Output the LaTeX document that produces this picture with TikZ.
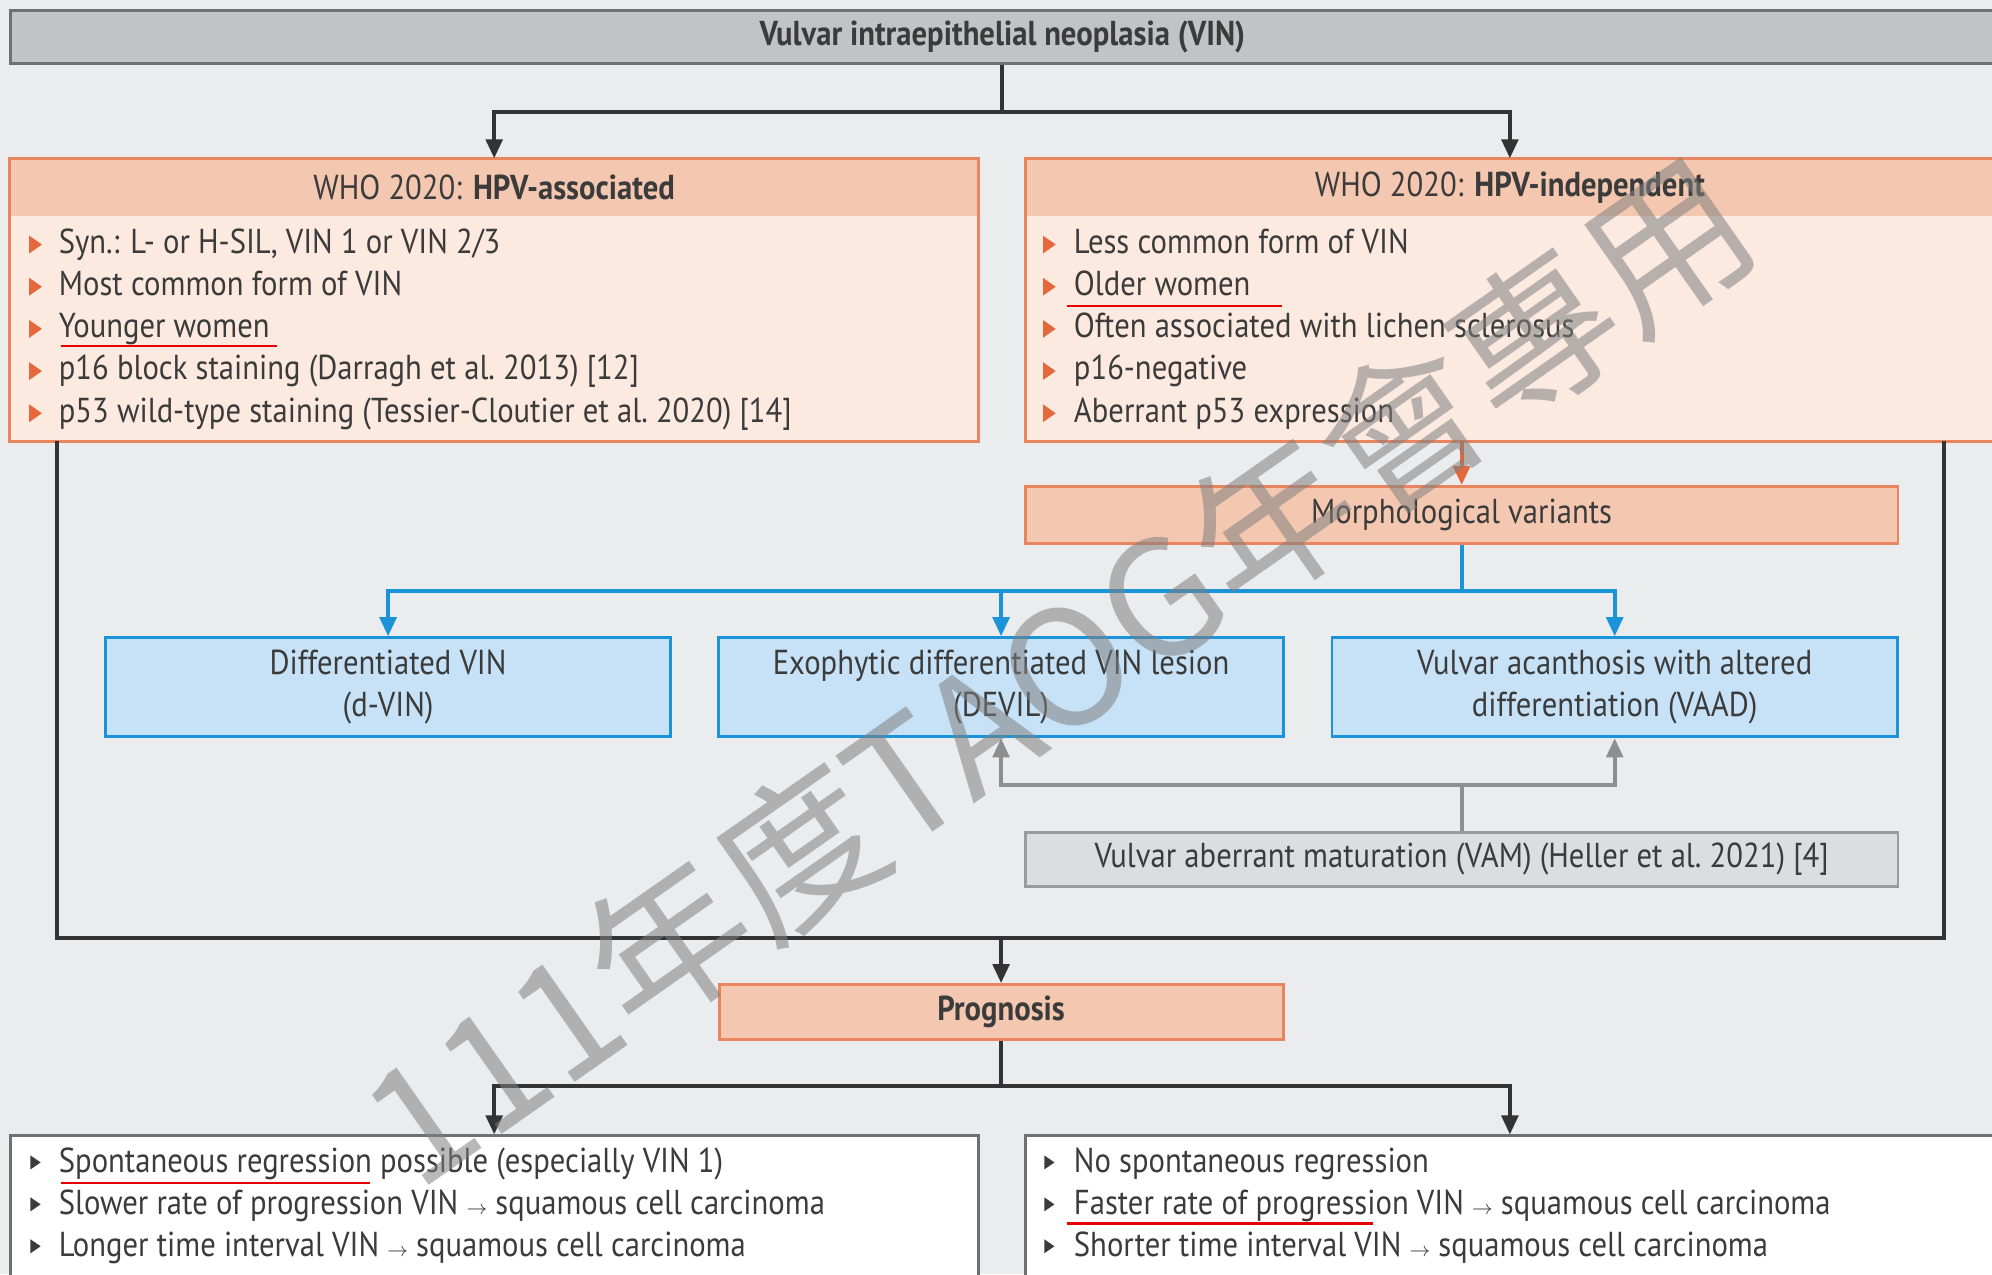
\documentclass[tikz,border=0pt]{standalone}
\usepackage{fontspec}
\setmainfont{PT Sans}[FakeStretch=0.886]
\newfontfamily\cjkfont{Noto Sans CJK TC}
\usetikzlibrary{arrows.meta}

\definecolor{pagegray}{HTML}{EBECEE}
\definecolor{titlefill}{HTML}{C2C3C5}
\definecolor{titleline}{HTML}{6F7072}
\definecolor{headfill}{HTML}{F4C8B0}
\definecolor{bodyfill}{HTML}{FCEAE1}
\definecolor{orangeline}{HTML}{E8845E}
\definecolor{bulletorange}{HTML}{E5683A}
\definecolor{bluefill}{HTML}{C7E2F6}
\definecolor{blueline}{HTML}{1B93D8}
\definecolor{vamfill}{HTML}{DCDDDF}
\definecolor{vamline}{HTML}{9B9B9B}
\definecolor{vamarrow}{HTML}{8E8E8E}
\definecolor{darkline}{HTML}{333333}
\definecolor{textgray}{HTML}{3B3B3B}
\definecolor{markred}{HTML}{E60000}

\begin{document}
\begin{tikzpicture}[x=0.2mm, y=-0.2mm,
    every node/.style={font=\fontsize{15.5}{18.8}\selectfont, text=textgray, inner sep=0pt},
    tip/.style={-{Triangle[width=2.6mm, length=3mm]}},
    flow/.style={draw=darkline, line width=1.8pt},
    titlebox/.style={fill=titlefill, draw=titleline, line width=1.3pt},
    hpvbody/.style={fill=bodyfill, minimum width=152.4mm, minimum height=44.4mm},
    hpvhead/.style={fill=headfill, minimum width=152.4mm, minimum height=9mm},
    salmonbox/.style={fill=headfill, draw=orangeline, line width=1.3pt},
    bluebox/.style={fill=bluefill, draw=blueline, line width=1.3pt, align=center,
        minimum width=89mm, minimum height=15.6mm},
    graybox/.style={fill=vamfill, draw=vamline, line width=1.3pt},
    whitebox/.style={fill=white, draw=titleline, line width=1.3pt,
        minimum width=152.4mm, minimum height=26mm},
    item/.style={anchor=base west},
    redmark/.style={draw=markred, line width=1.1pt},
    watermark/.style={font=\cjkfont\fontsize{72}{72}\selectfont, text=gray, text opacity=0.55}]

    % Page
    \useasboundingbox (0,0) rectangle (1568,1003);
    \clip (0,0) rectangle (1568,1003);
    \fill[pagegray] (0,0) rectangle (1568,1003);

    % Title
    \node[titlebox, minimum width=312.4mm, minimum height=8.4mm] (vin) at (789,29)
        {\textbf{Vulvar intraepithelial neoplasia (VIN)}};

    % The two WHO 2020 groups
    \node[hpvbody] (assoc) at (389,236) {};
    \node[hpvhead, anchor=north] (assochead) at (assoc.north) {WHO 2020: \textbf{HPV-associated}};
    \draw[orangeline, line width=1.3pt] (assoc.south west) rectangle (assoc.north east);

    \node[hpvbody] (indep) at (1188.5,236) {};
    \node[hpvhead, anchor=north] (indephead) at (indep.north) {WHO 2020: \textbf{HPV-independent}};
    \draw[orangeline, line width=1.3pt] (indep.south west) rectangle (indep.north east);

    \foreach \txt [count=\i from 0] in {{Syn.: L- or H-SIL, VIN 1 or VIN 2/3}, Most common form of VIN,
        Younger women, {p16 block staining (Darragh et al.\ 2013) [12]},
        {p53 wild-type staining (Tessier-Cloutier et al.\ 2020) [14]}} {
        \fill[bulletorange] (23,185.5+33.2*\i) -- ++(10,7) -- ++(-10,7) -- cycle;
        \node[item] (aitem\i) at (46,199.5+33.2*\i) {\txt};
    }
    \foreach \txt [count=\i from 0] in {Less common form of VIN, Older women,
        Often associated with lichen sclerosus, p16-negative, Aberrant p53 expression} {
        \fill[bulletorange] (821,185.5+33.2*\i) -- ++(10,7) -- ++(-10,7) -- cycle;
        \node[item] (iitem\i) at (845,199.5+33.2*\i) {\txt};
    }

    % Morphological variants
    \node[salmonbox, minimum width=137.4mm, minimum height=9mm] (morph) at (1150.5,405.5)
        {Morphological variants};
    \node[bluebox] (dvin) at (305.5,541) {Differentiated VIN\\(d-VIN)};
    \node[bluebox] (devil) at (788,541) {Exophytic differentiated VIN lesion\\(DEVIL)};
    \node[bluebox] (vaad) at (1271,541) {Vulvar acanthosis with altered\\differentiation (VAAD)};
    \node[graybox, minimum width=137.4mm, minimum height=8.6mm] (vam) at (1150.5,676.5)
        {Vulvar aberrant maturation (VAM) (Heller et al.\ 2021) [4]};

    % Prognosis
    \node[salmonbox, minimum width=88.8mm, minimum height=8.6mm] (prog) at (788,796.5)
        {\textbf{Prognosis}};
    \node[whitebox, anchor=north] (good) at (389,893) {};
    \node[whitebox, anchor=north] (bad) at (1188.5,893) {};

    \foreach \txt [count=\i from 0] in {Spontaneous regression possible (especially VIN 1),
        {Slower rate of progression VIN {\small$\rightarrow$} squamous cell carcinoma},
        {Longer time interval VIN {\small$\rightarrow$} squamous cell carcinoma}} {
        \fill[textgray] (24,909.5+33*\i) -- ++(8,5.5) -- ++(-8,5.5) -- cycle;
        \node[item] (gitem\i) at (46,923+33*\i) {\txt};
    }
    \foreach \txt [count=\i from 0] in {No spontaneous regression,
        {Faster rate of progression VIN {\small$\rightarrow$} squamous cell carcinoma},
        {Shorter time interval VIN {\small$\rightarrow$} squamous cell carcinoma}} {
        \fill[textgray] (822,909.5+33*\i) -- ++(8,5.5) -- ++(-8,5.5) -- cycle;
        \node[item] (bitem\i) at (845,923+33*\i) {\txt};
    }

    % Connectors
    \coordinate (split) at (789,88);
    \draw[flow] (vin.south) -- (split);
    \draw[flow, tip] (split) -| (assoc.north);
    \draw[flow, tip] (split) -| (indep.north);

    \draw[draw=bulletorange, line width=1.8pt, tip] (morph.north |- indep.south) -- (morph.north);

    \coordinate (variants) at (1150.5,465);
    \draw[draw=blueline, line width=1.8pt] (morph.south) -- (variants);
    \foreach \b in {dvin, devil, vaad}
        \draw[draw=blueline, line width=1.8pt, tip] (variants) -| (\b.north);

    \coordinate (maturation) at (1150.5,618);
    \draw[draw=vamarrow, line width=1.8pt] (vam.north) -- (maturation);
    \draw[draw=vamarrow, line width=1.8pt, tip] (maturation) -| (devil.south);
    \draw[draw=vamarrow, line width=1.8pt, tip] (maturation) -| (vaad.south);

    \coordinate (merge) at (788,738);
    \draw[flow] ([xshift=7.4mm]assoc.south west) |- (merge);
    \draw[flow] ([xshift=-8mm]indep.south east) |- (merge);
    \draw[flow, tip] (merge) -- (prog.north);

    \coordinate (outcome) at (788,855);
    \draw[flow] (prog.south) -- (outcome);
    \draw[flow, tip] (outcome) -| (good.north);
    \draw[flow, tip] (outcome) -| (bad.north);

    % Red underlines
    \draw[redmark] (48,272.5) -- (218,272.5);
    \draw[redmark] (840,241) -- (1009,241);
    \draw[redmark] (48,931) -- (291,931);
    \draw[redmark] (840,963) -- (1081,963);

    % Watermark
    \node[watermark, rotate=35] (stamp) at (832,528) {111年度TAOG年會專用};
\end{tikzpicture}
\end{document}
